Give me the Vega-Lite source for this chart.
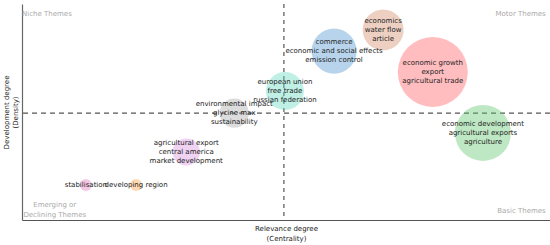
{
  "$schema": "https://vega.github.io/schema/vega-lite/v6.json",
  "autosize": "none",
  "padding": {"left": 22, "top": 4, "right": 0, "bottom": 25},
  "width": 528,
  "height": 216,
  "background": "white",
  "config": {
    "view": {"stroke": null},
    "font": "DejaVu Sans",
    "text": {"font": "DejaVu Sans", "fontSize": 7, "color": "#222222"}
  },
  "datasets": {
    "themes": [
      {"theme": "stabilisation", "label": "stabilisation", "centrality": 1.21, "density": 1.62, "freq": 9},
      {"theme": "developing region", "label": "developing region", "centrality": 2.16, "density": 1.62, "freq": 9},
      {"theme": "agricultural export", "label": "agricultural export|central america|market development", "centrality": 3.11, "density": 3.15, "freq": 46},
      {"theme": "environmental impact", "label": "environmental impact|glycine max|sustainability", "centrality": 4.02, "density": 4.95, "freq": 53},
      {"theme": "european union", "label": "european union|free trade|russian federation", "centrality": 4.98, "density": 5.97, "freq": 90},
      {"theme": "commerce", "label": "commerce|economic and social effects|emission control", "centrality": 5.91, "density": 7.82, "freq": 127},
      {"theme": "economics", "label": "economics|water flow|article", "centrality": 6.84, "density": 8.8, "freq": 105},
      {"theme": "economic growth", "label": "economic growth|export|agricultural trade", "centrality": 7.78, "density": 6.85, "freq": 306},
      {"theme": "economic development", "label": "economic development|agricultural exports|agriculture", "centrality": 8.73, "density": 4.03, "freq": 196}
    ],
    "one": [{}]
  },
  "layer": [
    {
      "data": {"name": "one"},
      "mark": {"type": "rule", "strokeDash": [4, 4], "color": "#555555", "strokeWidth": 1.2},
      "encoding": {"x": {"datum": 4.96, "type": "quantitative"}}
    },
    {
      "data": {"name": "one"},
      "mark": {"type": "rule", "strokeDash": [5, 4], "color": "#555555", "strokeWidth": 1.2},
      "encoding": {"y": {"datum": 4.95, "type": "quantitative"}}
    },
    {
      "data": {"name": "themes"},
      "mark": {"type": "point", "shape": "circle", "filled": true, "fillOpacity": 0.4, "strokeOpacity": 0.55, "strokeWidth": 1},
      "encoding": {
        "x": {"field": "centrality", "type": "quantitative", "scale": {"domain": [0, 10], "nice": false, "zero": false},
          "axis": {"ticks": false, "labels": false, "grid": false, "domainColor": "#555555", "domainWidth": 1.2,
            "title": ["Relevance degree", "(Centrality)"], "titleFont": "DejaVu Sans", "titleFontSize": 7, "titleFontWeight": "normal", "titleColor": "#222222", "titlePadding": 4, "titleLineHeight": 10}},
        "y": {"field": "density", "type": "quantitative", "scale": {"domain": [0, 10], "nice": false, "zero": false},
          "axis": {"ticks": false, "labels": false, "grid": false, "domainColor": "#666666", "domainWidth": 1.2,
            "title": ["Development degree", "(Density)"], "titleFont": "DejaVu Sans", "titleFontSize": 7, "titleFontWeight": "normal", "titleColor": "#222222", "titlePadding": 4, "titleLineHeight": 9}},
        "size": {"field": "freq", "type": "quantitative", "scale": {"domain": [0, 306], "range": [0, 4896]}, "legend": null},
        "color": {"field": "theme", "type": "nominal", "legend": null,
          "scale": {
            "domain": ["stabilisation", "developing region", "agricultural export", "environmental impact", "european union", "commerce", "economics", "economic growth", "economic development"],
            "range": ["#e377c2", "#ff9f40", "#d98fe0", "#a8a8a8", "#5fd8bd", "#4a94d0", "#d48a6a", "#ff5a62", "#5cc46a"]
          }}
      }
    },
    {
      "data": {"name": "themes"},
      "transform": [{"filter": "indexof(datum.label, '|') >= 0"}],
      "mark": {"type": "text", "lineBreak": "|", "lineHeight": 9, "baseline": "middle", "align": "center", "dy": -9},
      "encoding": {
        "x": {"field": "centrality", "type": "quantitative"},
        "y": {"field": "density", "type": "quantitative"},
        "text": {"field": "label", "type": "nominal"}
      }
    },
    {
      "data": {"name": "themes"},
      "transform": [{"filter": "indexof(datum.label, '|') < 0"}],
      "mark": {"type": "text", "baseline": "middle", "align": "center"},
      "encoding": {
        "x": {"field": "centrality", "type": "quantitative"},
        "y": {"field": "density", "type": "quantitative"},
        "text": {"field": "label", "type": "nominal"}
      }
    },
    {
      "data": {"name": "one"},
      "mark": {"type": "text", "align": "left", "baseline": "middle", "color": "#aaaaaa", "fontSize": 7},
      "encoding": {"x": {"datum": 0, "type": "quantitative"}, "y": {"datum": 9.54, "type": "quantitative"}, "text": {"value": "Niche Themes"}}
    },
    {
      "data": {"name": "one"},
      "mark": {"type": "text", "align": "right", "baseline": "middle", "color": "#aaaaaa", "fontSize": 7},
      "encoding": {"x": {"datum": 9.92, "type": "quantitative"}, "y": {"datum": 9.54, "type": "quantitative"}, "text": {"value": "Motor Themes"}}
    },
    {
      "data": {"name": "one"},
      "mark": {"type": "text", "align": "right", "baseline": "middle", "color": "#aaaaaa", "fontSize": 7},
      "encoding": {"x": {"datum": 9.92, "type": "quantitative"}, "y": {"datum": 0.42, "type": "quantitative"}, "text": {"value": "Basic Themes"}}
    },
    {
      "data": {"name": "one"},
      "mark": {"type": "text", "align": "center", "baseline": "middle", "color": "#aaaaaa", "fontSize": 7, "lineBreak": "|", "lineHeight": 10},
      "encoding": {"x": {"datum": 0.62, "type": "quantitative"}, "y": {"datum": 0.69, "type": "quantitative"}, "text": {"value": "Emerging or|Declining Themes"}}
    }
  ]
}
